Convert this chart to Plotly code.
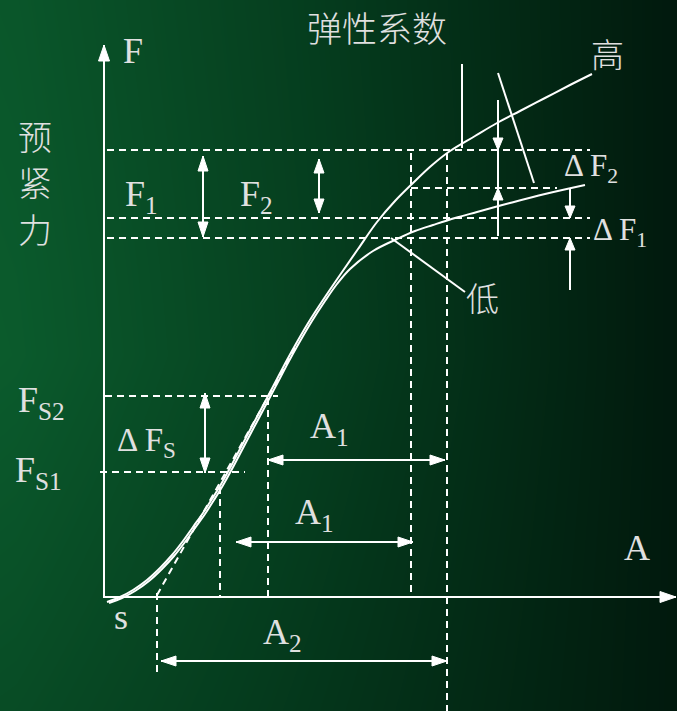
import plotly.graph_objects as go

# ---------------- data (in picture pixels) ----------------
W, H = 677, 711

# shared lower part of the two spring curves (origin s up to where they split)
COMMON_X = [107, 120, 133, 147, 160, 172, 183, 193, 203, 212, 220, 230, 240, 250, 258, 267, 277, 287, 297, 310, 323]
COMMON_Y = [602, 597, 590, 580, 568, 555, 541, 527, 513, 499, 486, 468, 449, 430, 415, 398, 379, 360, 342, 320, 300]
# stiff ("高") curve continuation
HIGH_X = [323, 340, 358, 377, 395, 413, 431, 450, 475, 497, 520, 545, 570, 592]
HIGH_Y = [300, 275, 249, 222, 201, 183, 166, 151, 136, 123, 111, 98, 85, 74]
# soft ("低") curve continuation
LOW_X = [323, 337, 350, 373, 397, 415, 433, 455, 477, 510, 545, 585]
LOW_Y = [300, 284, 269, 251, 239, 231, 225, 218, 212, 203, 194, 185]

# force levels (y) and deformation positions (x)
Y_F_TOP, Y_F2_END, Y_F1, Y_F0 = 150, 188, 218, 238
Y_FS2, Y_FS1 = 396, 472
X_S1, X_S2, X_A_LOW, X_A_HIGH, X_TAN = 220, 268, 411, 447, 157

# dashed guide segments: (x0, y0, x1, y1)
DASHED = [
    (107, Y_F_TOP, 590, Y_F_TOP),
    (X_A_LOW, Y_F2_END, 557, Y_F2_END),
    (107, Y_F1, 590, Y_F1),
    (107, Y_F0, 590, Y_F0),
    (105, Y_FS2, 278, Y_FS2),
    (100, Y_FS1, 245, Y_FS1),
    (X_S1, 487, X_S1, 597),
    (X_S2, 398, X_S2, 597),
    (X_A_LOW, 153, X_A_LOW, 597),
    (X_A_HIGH, 153, X_A_HIGH, 711),
    (X_TAN, 593, X_TAN, 673),
    (X_TAN, 595, 297, 345),
]
# plain leader lines
LEADERS = [
    (462, 64, 462, 148),
    (498, 73, 534, 183),
    (391, 238, 465, 292),
    (498, 150, 498, 188),
]
# arrows: (tail x, tail y, head x, head y, double-headed, head length, head half-width)
ARROWS = [
    (104, 598, 104, 45, False, 16, 5.5),
    (104, 597, 676, 597, False, 16, 5.5),
    (203, 156, 203, 237, True, 15, 5),
    (319, 159, 319, 213, True, 14, 5),
    (205, 393, 205, 473, True, 15, 5),
    (268, 460, 445, 460, True, 15, 5),
    (236, 542, 413, 542, True, 15, 5),
    (161, 661, 447, 661, True, 15, 5),
    (498, 100, 498, 150, False, 12, 5),
    (498, 236, 498, 188, False, 12, 5),
    (570, 188, 570, 218, False, 12, 5),
    (570, 290, 570, 238, False, 12, 5),
]
# labels: (text, x, y, size, family)
SERIF = "Liberation Serif, Times New Roman, serif"
CJK = "Noto Sans CJK SC"
LABELS = [
    ("弹性系数", 377, 26, 35, CJK),
    ("预", 35, 135, 34, CJK),
    ("紧", 35, 181, 34, CJK),
    ("力", 35, 228, 34, CJK),
    ("高", 607, 53, 33, CJK),
    ("低", 482, 297, 33, CJK),
    ("F", 133, 51, 36, SERIF),
    ("F<sub>1</sub>", 141, 196, 36, SERIF),
    ("F<sub>2</sub>", 256, 196, 36, SERIF),
    ("Δ F<sub>2</sub>", 591, 168, 31, SERIF),
    ("Δ F<sub>1</sub>", 620, 232, 31, SERIF),
    ("F<sub>S2</sub>", 41, 402, 36, SERIF),
    ("F<sub>S1</sub>", 38, 472, 36, SERIF),
    ("Δ F<sub>S</sub>", 146, 442, 33, SERIF),
    ("A<sub>1</sub>", 329, 428, 36, SERIF),
    ("A<sub>1</sub>", 314, 514, 36, SERIF),
    ("A<sub>2</sub>", 282, 634, 36, SERIF),
    ("A", 637, 548, 36, SERIF),
    ("s", 121, 617, 36, SERIF),
]

BG_STOPS = [[0.0, "#01190d"], [0.5, "#053d1e"], [1.0, "#0b5c2d"]]
LINE = "white"
TEXT = "#e0e0e0"

# ---------------- figure ----------------
fig = go.Figure()

# gradient background
gx = [-20 + 36 * i for i in range(21)]
gy = [-20 + 75 * j for j in range(11)]
gz = []
for yv in gy:
    row = []
    for xv in gx:
        h = 1 - min(max(xv, 0), W) / W
        v = 1 - 0.25 * max(0.0, (yv - 350) / 360) - 0.08 * max(0.0, (350 - yv) / 350)
        row.append(h * v)
    gz.append(row)
fig.add_trace(go.Heatmap(x=gx, y=gy, z=gz, colorscale=BG_STOPS, zmin=0, zmax=1,
                         zsmooth="best", showscale=False, hoverinfo="skip"))


def seg_xy(segs):
    xs, ys = [], []
    for x0, y0, x1, y1 in segs:
        xs += [x0, x1, None]
        ys += [y0, y1, None]
    return xs, ys


# dashed guides
dx, dy = seg_xy(DASHED)
fig.add_trace(go.Scatter(x=dx, y=dy, mode="lines", line=dict(color=LINE, width=2, dash="7px,5px"),
                         hoverinfo="skip"))

# curves
fig.add_trace(go.Scatter(x=COMMON_X + HIGH_X[1:], y=COMMON_Y + HIGH_Y[1:], mode="lines",
                         line=dict(color=LINE, width=2, shape="spline"), hoverinfo="skip"))
fig.add_trace(go.Scatter(x=[v + 2 for v in COMMON_X] + LOW_X[1:],
                         y=[v + 1 for v in COMMON_Y] + LOW_Y[1:], mode="lines",
                         line=dict(color=LINE, width=2, shape="spline"), hoverinfo="skip"))

# leader lines + arrow shafts
shafts = list(LEADERS) + [(a[0], a[1], a[2], a[3]) for a in ARROWS]
sx, sy = seg_xy(shafts)
fig.add_trace(go.Scatter(x=sx, y=sy, mode="lines", line=dict(color=LINE, width=2), hoverinfo="skip"))


def head(tx, ty, hx, hy, L, hw):
    ux, uy = hx - tx, hy - ty
    n = (ux * ux + uy * uy) ** 0.5
    ux, uy = ux / n, uy / n
    bx, by = hx - ux * L, hy - uy * L
    px, py = -uy, ux
    return [hx, bx + px * hw, bx - px * hw, hx, None], [hy, by + py * hw, by - py * hw, hy, None]


hx_all, hy_all = [], []
for tx, ty, hx, hy, both, L, hw in ARROWS:
    a, b = head(tx, ty, hx, hy, L, hw)
    hx_all += a
    hy_all += b
    if both:
        a, b = head(hx, hy, tx, ty, L, hw)
        hx_all += a
        hy_all += b
fig.add_trace(go.Scatter(x=hx_all, y=hy_all, mode="lines", fill="toself", fillcolor=LINE,
                         line=dict(color=LINE, width=1), hoverinfo="skip"))

for text, x, y, size, fam in LABELS:
    font = dict(family=fam, size=size, color=TEXT)
    if fam == CJK:
        font["weight"] = 300
    fig.add_annotation(x=x, y=y, xref="x", yref="y", text=text, showarrow=False,
                       xanchor="center", yanchor="middle", font=font)

fig.update_layout(
    width=W, height=H, margin=dict(l=0, r=0, t=0, b=0),
    paper_bgcolor="#01190d", plot_bgcolor="#01190d", showlegend=False,
    xaxis=dict(range=[0, W], visible=False, fixedrange=True),
    yaxis=dict(range=[H, 0], visible=False, fixedrange=True),
)

fig.write_html("out.html", config={"displayModeBar": False},
               post_script="document.body.style.margin='0';document.body.style.overflow='hidden';")
